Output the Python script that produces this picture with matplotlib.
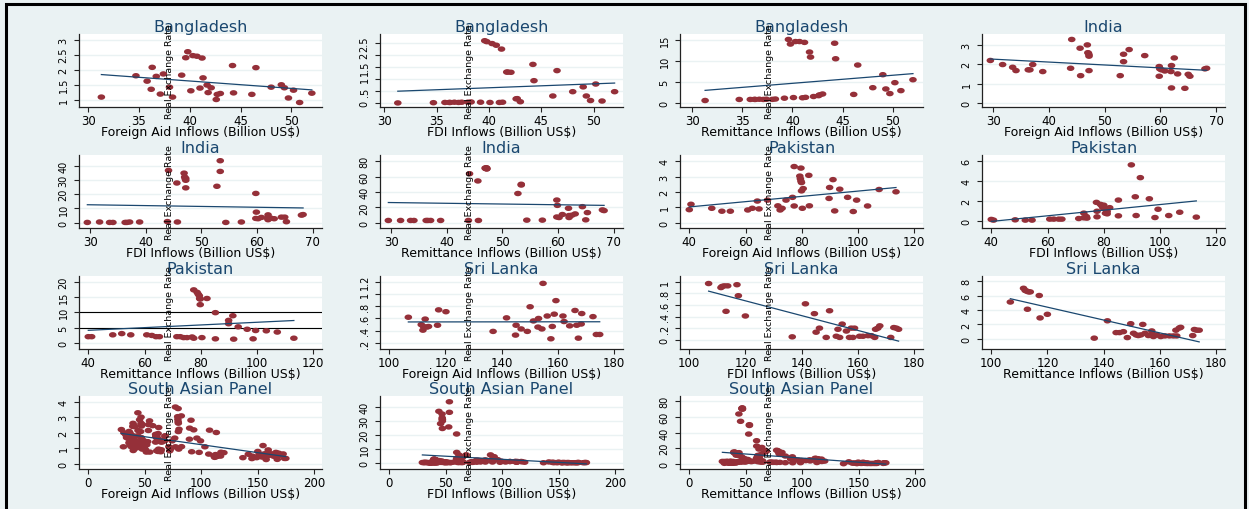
import numpy as np
import matplotlib.pyplot as plt
from matplotlib.path import Path
from matplotlib.patches import Rectangle

# Bangladesh (same x for the three panels)
bd_x = [31.3, 34.7, 35.8, 36.2, 36.3, 36.7, 37.1, 37.4, 38.0, 38.3, 39.2, 39.6, 39.8, 40.1, 40.3, 40.7, 41.0, 41.2,
        41.3, 41.7, 41.8, 42.1, 42.6, 42.7, 43.0, 44.2, 44.3, 46.1, 46.5, 48.0, 49.0, 49.3, 49.7, 50.2, 50.8, 52.0]
bd_aid = [1.09, 1.80, 1.62, 1.35, 2.08, 1.78, 1.19, 1.86, 1.42, 1.09, 1.82, 2.40, 2.60, 1.30, 2.47, 2.45, 1.39, 2.39,
          1.73, 1.49, 1.24, 1.40, 1.01, 1.18, 1.21, 2.14, 1.23, 1.18, 2.07, 1.42, 1.50, 1.40, 1.06, 1.32, 0.91, 1.22]
bd_fdi = [0.00, 0.01, 0.02, 0.02, 0.02, 0.03, 0.02, 0.03, 0.03, 0.04, 0.03, 2.60, 2.56, 0.02, 2.48, 2.41, 0.02, 2.25,
          0.03, 1.29, 1.29, 1.28, 0.17, 0.18, 0.05, 1.61, 0.93, 0.29, 1.35, 0.47, 0.67, 0.29, 0.10, 0.79, 0.08, 0.47]
bd_rem = [0.55, 0.80, 0.80, 0.82, 0.80, 0.85, 0.80, 0.85, 0.82, 0.90, 1.10, 15.1, 14.0, 1.25, 14.6, 14.6, 1.20, 14.4,
          1.30, 12.1, 10.9, 1.50, 1.70, 1.90, 2.10, 14.2, 10.5, 2.0, 9.0, 3.6, 6.7, 3.3, 2.2, 4.8, 2.9, 5.5]

# India (same x for the three panels)
in_x = [29.5, 31.7, 33.5, 34.1, 36.3, 36.6, 37.1, 38.9, 43.9, 44.1, 45.6, 45.7, 46.9, 47.0, 47.1, 47.2, 47.2, 47.2,
        52.8, 53.4, 53.4, 54.4, 57.2, 59.8, 59.9, 60.2, 59.8, 60.8, 61.9, 62.0, 62.0, 62.5, 63.1, 64.4, 65.0, 65.3,
        68.0, 68.3]
in_aid = [2.20, 1.99, 1.85, 1.68, 1.72, 1.72, 1.99, 1.63, 1.80, 3.28, 2.83, 1.42, 3.00, 2.60, 2.57, 2.42, 2.49, 1.68,
          1.42, 2.52, 2.14, 2.76, 2.45, 1.89, 1.77, 1.72, 1.39, 1.66, 1.63, 1.94, 0.79, 2.33, 1.51, 0.77, 1.49, 1.39,
          1.77, 1.80]
in_fdi = [0.2, 0.5, 0.2, 0.2, 0.2, 0.2, 0.5, 0.5, 0.8, 36.6, 27.8, 0.5, 34.7, 32.0, 30.8, 29.7, 31.0, 24.4,
          25.5, 43.4, 35.9, 0.2, 0.5, 20.5, 7.4, 2.8, 3.0, 3.7, 3.2, 5.5, 2.1, 3.2, 2.8, 3.9, 3.9, 0.7,
          5.3, 5.7]
in_rem = [3.0, 3.0, 3.0, 3.0, 3.0, 3.0, 3.0, 3.0, 3.0, 63.7, 54.3, 3.0, 71.0, 70.5, 71.5, 70.0, 71.0, 70.0,
          38.0, 50.0, 49.0, 3.4, 3.4, 29.5, 22.6, 6.8, 7.5, 10.7, 18.8, 9.4, 6.8, 9.8, 11.5, 20.9, 3.8, 13.2,
          16.7, 15.8]

# Pakistan
pk_aid_x = [40.0, 40.6, 48.0, 51.6, 54.6, 60.8, 62.4, 64.2, 64.8, 67.8, 71.5, 72.3, 73.0, 74.4, 76.7, 77.3, 77.3,
            79.7, 79.3, 79.5, 79.7, 79.9, 79.9, 80.5, 80.2, 82.5, 82.7, 89.7, 89.9, 91.1, 91.7, 93.5, 96.3, 98.3,
            99.5, 103.4, 107.5, 113.5]
pk_aid = [0.85, 1.20, 0.94, 0.75, 0.75, 0.83, 0.94, 1.41, 0.90, 1.47, 1.10, 0.83, 0.94, 1.47, 1.65, 3.65, 1.09,
          3.55, 3.03, 2.86, 2.71, 2.61, 2.07, 2.22, 0.94, 3.08, 1.10, 1.58, 2.29, 2.80, 0.77, 2.18, 1.65, 0.73,
          1.47, 1.09, 2.16, 2.01]
pk_fdi_x = [40.0, 40.8, 48.5, 52.1, 54.5, 60.8, 62.2, 64.0, 65.1, 71.1, 72.9, 74.0, 73.8, 72.9, 77.4, 77.6, 77.6,
            78.8, 79.3, 79.6, 79.9, 80.0, 80.6, 81.2, 82.1, 81.2, 85.2, 85.2, 89.8, 93.0, 91.2, 91.5, 96.2, 98.2,
            99.3, 103.1, 107.0, 112.9]
pk_fdi = [0.17, 0.10, 0.13, 0.10, 0.10, 0.20, 0.20, 0.20, 0.20, 0.26, 0.33, 0.30, 0.46, 0.80, 1.88, 0.43, 0.99,
          1.68, 1.55, 1.39, 1.30, 1.60, 0.79, 0.73, 1.35, 0.96, 2.11, 0.53, 5.64, 4.36, 2.44, 0.56, 2.24, 0.36,
          1.19, 0.56, 0.89, 0.40]
pk_rem_x = [40.0, 41.2, 48.7, 51.9, 55.1, 60.8, 62.6, 64.1, 65.3, 71.5, 72.7, 73.9, 75.1, 76.9, 77.5, 77.5, 78.7,
            79.1, 79.5, 79.8, 79.6, 79.8, 80.4, 82.2, 85.2, 85.2, 89.9, 89.9, 91.4, 91.7, 93.3, 96.5, 98.6, 99.5,
            103.3, 107.2, 113.1]
pk_rem = [2.1, 2.1, 2.7, 3.1, 2.7, 2.7, 2.5, 2.1, 2.1, 2.1, 2.1, 1.8, 1.8, 2.0, 17.3, 1.6, 16.5,
          15.9, 15.4, 14.3, 14.5, 12.5, 1.8, 14.5, 9.9, 1.4, 7.4, 6.3, 8.9, 1.3, 5.3, 4.5, 1.4, 4.1,
          4.0, 3.6, 1.6]

# Sri Lanka
sl_aid_x = [106.8, 112.8, 111.4, 112.2, 112.0, 113.4, 114.0, 117.2, 117.6, 120.2, 137.0, 141.8, 145.2, 145.0,
            147.0, 149.2, 150.2, 151.4, 153.2, 153.0, 154.4, 154.8, 156.3, 157.6, 158.1, 158.8, 159.4, 161.9,
            162.3, 164.3, 166.2, 166.8, 167.4, 168.6, 168.4, 172.6, 173.8, 175.0]
sl_aid = [0.62, 0.59, 0.50, 0.47, 0.41, 0.46, 0.47, 0.49, 0.74, 0.71, 0.39, 0.61, 0.49, 0.33,
          0.43, 0.39, 0.79, 0.56, 0.60, 0.46, 0.43, 1.17, 0.64, 0.27, 0.47, 0.67, 0.89, 0.64,
          0.55, 0.48, 0.73, 0.49, 0.28, 0.68, 0.51, 0.63, 0.34, 0.34]
sl_fdi_x = [106.9, 111.3, 112.5, 113.7, 111.7, 117.0, 117.5, 113.1, 120.0, 136.7, 141.4, 144.6, 145.2, 146.4,
            148.8, 150.0, 152.4, 153.6, 153.0, 154.5, 156.0, 157.1, 158.3, 157.7, 158.9, 160.7, 161.9, 163.7,
            164.9, 166.1, 166.4, 167.2, 167.9, 171.8, 172.9, 173.8, 174.6]
sl_fdi = [0.97, 0.90, 0.93, 0.93, 0.92, 0.95, 0.76, 0.49, 0.41, 0.05, 0.62, 0.45, 0.13, 0.20,
          0.04, 0.50, 0.06, 0.04, 0.18, 0.27, 0.15, 0.04, 0.04, 0.20, 0.20, 0.06, 0.06, 0.07,
          0.07, 0.04, 0.18, 0.20, 0.24, 0.04, 0.21, 0.20, 0.18]
sl_rem_x = [106.8, 111.5, 112.1, 112.7, 113.3, 113.9, 112.9, 117.1, 117.4, 120.0, 136.7, 141.4, 144.5, 145.7,
            147.1, 148.5, 149.7, 150.7, 151.6, 152.4, 153.3, 154.0, 154.8, 156.0, 157.2, 157.5, 157.8, 159.0,
            160.4, 161.9, 163.5, 164.9, 166.1, 165.8, 167.0, 167.5, 171.8, 172.4, 173.2, 174.1]
sl_rem = [5.1, 7.0, 6.7, 6.6, 6.5, 6.5, 4.1, 6.0, 2.9, 3.4, 0.1, 2.5, 0.87, 0.87,
          1.0, 0.18, 2.1, 0.78, 0.55, 0.46, 0.55, 2.0, 0.78, 0.46, 1.1, 0.64, 0.32, 0.55,
          0.32, 0.41, 0.41, 0.41, 0.41, 1.2, 1.5, 1.6, 0.46, 1.3, 1.2, 1.2]

# South Asian panel = all four countries pooled
sa_aid_x = bd_x + in_x + pk_aid_x + sl_aid_x
sa_aid = bd_aid + in_aid + pk_aid + sl_aid
sa_fdi_x = bd_x + in_x + pk_fdi_x + sl_fdi_x
sa_fdi = bd_fdi + in_fdi + pk_fdi + sl_fdi
sa_rem_x = bd_x + in_x + pk_rem_x + sl_rem_x
sa_rem = bd_rem + in_rem + pk_rem + sl_rem

AID = 'Foreign Aid Inflows (Billion US$)'
FDI = 'FDI Inflows (Billion US$)'
REM = 'Remittance Inflows (Billion US$)'

bd_xt = [30, 35, 40, 45, 50]
in_xt = [30, 40, 50, 60, 70]
pk_xt = [40, 60, 80, 100, 120]
sl_xt = [100, 120, 140, 160, 180]
sa_xt = [0, 50, 100, 150, 200]

# title, x, y, xlabel, xticks, yticks, xlim, ylim
panels = [
    ('Bangladesh', bd_x, bd_aid, AID, bd_xt, [1, 1.5, 2, 2.5, 3], (29.1, 53.0), (0.76, 3.19)),
    ('Bangladesh', bd_x, bd_fdi, FDI, bd_xt, [0, .5, 1, 1.5, 2, 2.5], (29.6, 52.8), (-0.17, 2.88)),
    ('Bangladesh', bd_x, bd_rem, REM, bd_xt, [0, 5, 10, 15], (28.8, 53.0), (-1.0, 16.4)),
    ('India', in_x, in_aid, AID, in_xt, [0, 1, 2, 3], (28.0, 71.6), (-0.19, 3.56)),
    ('India', in_x, in_fdi, FDI, in_xt, [0, 10, 20, 30, 40], (28.0, 71.7), (-3.7, 47.4)),
    ('India', in_x, in_rem, REM, in_xt, [0, 20, 40, 60, 80], (28.0, 71.7), (-6.8, 88)),
    ('Pakistan', pk_aid_x, pk_aid, AID, pk_xt, [0, 1, 2, 3, 4], (36.7, 123.1), (-0.34, 4.4)),
    ('Pakistan', pk_fdi_x, pk_fdi, FDI, pk_xt, [0, 2, 4, 6], (36.7, 123.1), (-0.69, 6.63)),
    ('Pakistan', pk_rem_x, pk_rem, REM, pk_xt, [0, 5, 10, 15, 20], (36.7, 123.1), (-1.9, 21.8)),
    ('Sri Lanka', sl_aid_x, sl_aid, AID, sl_xt, [.2, .4, .6, .8, 1, 1.2], (96.7, 183.3), (0.104, 1.29)),
    ('Sri Lanka', sl_fdi_x, sl_fdi, FDI, sl_xt, [0, .2, .4, .6, .8, 1], (96.7, 183.3), (-0.16, 1.1)),
    ('Sri Lanka', sl_rem_x, sl_rem, REM, sl_xt, [0, 2, 4, 6, 8], (96.7, 183.3), (-1.4, 8.7)),
    ('South Asian Panel', sa_aid_x, sa_aid, AID, sa_xt, [0, 1, 2, 3, 4], (-8, 207), (-0.34, 4.36)),
    ('South Asian Panel', sa_fdi_x, sa_fdi, FDI, sa_xt, [0, 10, 20, 30, 40], (-8, 207), (-4.4, 47.5)),
    ('South Asian Panel', sa_rem_x, sa_rem, REM, sa_xt, [0, 20, 40, 60, 80], (-8, 207), (-6.7, 86.7)),
]


def stata_fmt(v):
    s = f'{v:g}'
    if s.startswith('0.'):
        s = s[1:]
    return s


W, H = 1249, 510
BG = '#eaf2f3'
NAVY = '#1a476f'
DOT = '#953039'

# Stata draws the circles stretched sideways in this export
t = np.linspace(0, 2 * np.pi, 41)
ellipse = Path(np.column_stack([np.cos(t), 0.72 * np.sin(t)]), closed=True)

fig = plt.figure(figsize=(W / 100, H / 100), dpi=100, facecolor=BG)

col_left = [79, 380, 680, 982]
row_top = [35, 156, 277, 397]
pw, ph = 243, 73

for i, (name, x, y, xlab, xt, yt, xl, yl) in enumerate(panels):
    r, c = divmod(i, 4)
    ax = fig.add_axes([col_left[c] / W, 1 - (row_top[r] + ph) / H, pw / W, ph / H])
    ax.set_facecolor('white')
    x = np.array(x)
    y = np.array(y)

    ax.scatter(x, y, s=30, marker=ellipse, color=DOT, edgecolors='none', zorder=3)
    b, a = np.polyfit(x, y, 1)
    xs = np.array([x.min(), x.max()])
    ax.plot(xs, a + b * xs, color=NAVY, lw=0.9, zorder=4)

    if i == 8:
        ax.axhline(5, color='black', lw=0.8, zorder=2)
        ax.axhline(10, color='black', lw=0.8, zorder=2)

    ax.set_xlim(*xl)
    ax.set_ylim(*yl)
    ax.set_xticks(xt)
    ax.set_yticks(yt)
    ax.set_yticklabels([stata_fmt(v) for v in yt])
    ax.grid(axis='y', color=BG, lw=1.0)
    ax.set_axisbelow(True)

    for s in ['top', 'right']:
        ax.spines[s].set_visible(False)
    for s in ['left', 'bottom']:
        ax.spines[s].set_linewidth(0.9)
        ax.spines[s].set_color('#222222')

    ax.tick_params(axis='x', labelsize=8.5, length=3.5, width=0.8, color='#222222', pad=1.5)
    ax.tick_params(axis='y', labelsize=7, length=3.5, width=0.8, color='#222222',
                   labelrotation=90, pad=4)
    for lab in ax.get_yticklabels():
        lab.set_va('center')

    ax.set_xlabel(xlab, fontsize=9, labelpad=-1.5)
    ax.set_title(name, color=NAVY, fontsize=11.5, pad=1.5)

    if c < 3:
        ax.text(90 / pw, 0.5, 'Real Exchange Rate', rotation=90, transform=ax.transAxes,
                ha='center', va='center', fontsize=6.8, zorder=6, clip_on=False)

fig.patches.append(Rectangle((6 / W, -0.1), 1239 / W, 1.1 - 5 / H, transform=fig.transFigure,
                             fill=False, edgecolor='black', lw=2.2))

fig.savefig('out.png', dpi=100, facecolor=BG)
